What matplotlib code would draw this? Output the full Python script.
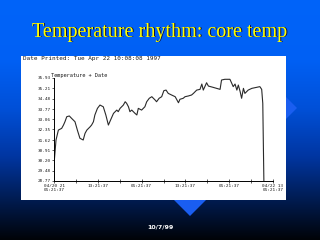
"""Slide: temperature rhythm, core temperature trace on a blue gradient."""

import matplotlib
matplotlib.use("Agg")
import matplotlib.pyplot as plt
import numpy as np
from matplotlib.colors import LinearSegmentedColormap
from matplotlib.patches import Polygon, Rectangle

# hours since start of recording
hours = [0.0, 0.1, 0.55, 1.2, 2.1, 2.6, 3.0, 3.5, 4.2, 4.8, 5.75, 6.4, 7.1, 8.0,
         8.5, 9.0, 9.9, 10.3, 10.8, 11.2, 11.9, 12.6, 13.5, 14.2, 14.9, 15.5,
         16.3, 17.2, 17.6, 18.1, 19.0, 19.5, 19.9, 20.4, 20.8, 21.3, 22.2, 22.7,
         23.1, 24.0, 24.9, 25.4, 26.1, 26.8, 27.7, 28.1, 28.8, 29.5, 30.1, 30.7,
         31.3, 32.2, 33.2, 34.1, 34.5, 35.4, 35.9, 36.8, 37.7, 38.2, 39.1, 40.0,
         40.5, 40.9, 41.4, 41.8, 42.3, 43.6, 45.5, 45.9, 46.8, 48.2, 48.7, 49.1,
         49.6, 50.1, 50.5, 51.0, 51.4, 51.9, 52.3, 53.2, 54.2, 55.5, 56.4, 56.9,
         57.2, 57.5]
temps = [28.77, 30.23, 31.62, 32.31, 32.43, 32.66, 32.89, 33.24, 33.29, 33.13,
         32.89, 32.31, 31.74, 31.62, 32.08, 32.31, 32.54, 32.66, 32.89, 33.36,
         33.82, 34.05, 33.93, 33.36, 32.66, 33.01, 33.47, 33.70, 33.59, 33.82,
         34.05, 34.28, 34.17, 33.93, 33.59, 33.70, 33.47, 33.36, 33.82, 33.70,
         33.93, 34.28, 34.52, 34.63, 34.40, 34.28, 34.52, 34.63, 35.05, 35.09,
         34.86, 34.75, 34.63, 34.21, 34.45, 34.52, 34.63, 34.68, 34.75, 34.86,
         35.09, 35.14, 35.51, 35.09, 35.37, 35.60, 35.37, 35.28, 35.14, 35.79,
         35.84, 35.84, 35.56, 35.33, 35.51, 35.09, 35.44, 34.98, 34.52, 35.21,
         34.86, 35.09, 35.21, 35.28, 35.33, 35.14, 34.17, 28.77]

y_tick_labels = ["28.77", "29.48", "30.20", "30.91", "31.62", "32.35",
                 "33.06", "33.77", "34.48", "35.21", "35.93"]
x_ticks = [0, 6, 12, 18, 24, 30, 36, 42, 48, 54, 60]
x_tick_labels = ["04/20 21\n01:21:37", "", "13:21:37", "", "01:21:37", "",
                 "13:21:37", "", "01:21:37", "", "04/22 13\n01:21:37"]

title = "Temperature rhythm: core temp"
printed = "Date Printed: Tue Apr 22 10:08:08 1997"
plot_label = "Temperature + Date"
footer = "10/7/99"

W, H = 320, 240
fig = plt.figure(figsize=(W / 100, H / 100), dpi=100)

# background in pixel coordinates
bg = fig.add_axes([0, 0, 1, 1])
bg.set_xlim(0, W)
bg.set_ylim(H, 0)
bg.axis("off")
cmap = LinearSegmentedColormap.from_list(
    "slide", [(0.0, "#0064fa"), (0.25, "#0060f4"), (0.45, "#0050d8"),
              (0.65, "#0036a2"), (0.83, "#001c52"), (1.0, "#000308")])
grad = np.linspace(0, 1, 256).reshape(-1, 1)
bg.imshow(grad, cmap=cmap, aspect="auto", extent=(0, W, H, 0), zorder=0)

# decorative diamonds, mostly hidden behind the white panel
for cx, cy, r in [(190, 200, 16), (286, 108, 11)]:
    bg.add_patch(Polygon([(cx - r, cy), (cx, cy - r), (cx + r, cy), (cx, cy + r)],
                         closed=True, facecolor="#1a5ef0", edgecolor="none", zorder=1))

bg.add_patch(Rectangle((21, 56), 265, 144, facecolor="white", edgecolor="none", zorder=2))

bg.text(161, 33, title, ha="center", va="center", fontsize=14.5,
        family="Liberation Serif", color="#10103a", zorder=3)
bg.text(160, 32, title, ha="center", va="center", fontsize=14.5,
        family="Liberation Serif", color="#ffff00", zorder=4)
bg.text(160, 227, footer, ha="center", va="center", fontsize=4.5,
        weight="bold", color="white", zorder=3)
bg.text(23, 58.5, printed, ha="left", va="center", fontsize=4.3,
        family="DejaVu Sans Mono", color="#1a1a1a", zorder=3)
bg.text(51, 76, plot_label, ha="left", va="center", fontsize=3.8,
        family="DejaVu Sans Mono", color="#1a1a1a", zorder=3)

# the trace
ax = fig.add_axes([54 / W, 1 - 181 / H, 219 / W, 103 / H])
ax.patch.set_alpha(0)
ax.plot(hours, temps, color="#2a2a2a", lw=0.8)
ax.set_xlim(0, 60)
ax.set_ylim(28.77, 35.93)
ax.set_yticks([float(s) for s in y_tick_labels])
ax.set_yticklabels(y_tick_labels)
ax.set_xticks(x_ticks)
ax.set_xticklabels(x_tick_labels)
for side in ["top", "right"]:
    ax.spines[side].set_visible(False)
for side in ["left", "bottom"]:
    ax.spines[side].set_linewidth(0.7)
ax.tick_params(axis="both", labelsize=3.2, length=1.5, width=0.5, pad=1,
               colors="#1a1a1a")
ax.tick_params(axis="x", direction="inout", length=2.5)
for lbl in ax.get_xticklabels() + ax.get_yticklabels():
    lbl.set_family("DejaVu Sans Mono")
    lbl.set_linespacing(0.9)

fig.savefig("out.png", dpi=100)
